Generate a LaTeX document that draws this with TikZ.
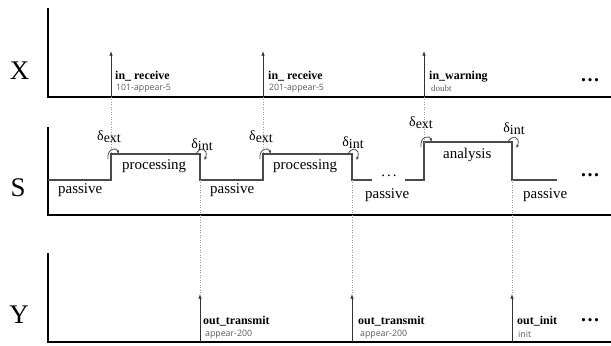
\documentclass[tikz,border=0pt]{standalone}
\usepackage{fontspec}
\setmainfont{Liberation Serif}
\newfontfamily\smallsans{Open Sans}
\usetikzlibrary{arrows.meta}
\definecolor{stepgray}{HTML}{4A4A4A}
\definecolor{labgray}{HTML}{5A5A5A}
\tikzset{
  axis/.style={line width=1.6bp, black},
  steppath/.style={line width=1.3bp, stepgray},
  evarrow/.style={line width=0.8bp, black!80, -{Latex[length=4.5bp,width=3.5bp]}},
  guide/.style={line width=0.5bp, black!40, dotted},
  loop/.style={line width=0.8bp, stepgray, -{Latex[length=3.5bp,width=3bp]}},
  axlabel/.style={font=\fontsize{27}{27}\selectfont, inner sep=0pt},
  evname/.style={font=\fontsize{12}{12}\selectfont\bfseries, anchor=base west, inner sep=0pt},
  evval/.style={font=\smallsans\fontsize{8.8}{9}\selectfont, text=labgray, anchor=west, inner sep=0pt},
  evvalserif/.style={font=\fontsize{9}{9}\selectfont, text=labgray, anchor=west, inner sep=0pt},
  state/.style={font=\fontsize{15}{15}\selectfont, anchor=west, inner sep=0pt},
  trans/.style={font=\fontsize{14}{14}\selectfont, inner sep=0pt},
  more/.style={font=\fontsize{20}{20}\selectfont\bfseries, anchor=west, inner sep=0pt},
}
\newcommand{\dext}{δ\raisebox{-2bp}{ext}}
\newcommand{\dint}{δ\raisebox{-2bp}{int}}
\begin{document}
\begin{tikzpicture}[x=1bp,y=-1bp]
\useasboundingbox (0,0) rectangle (611,345);

% axis labels
\node[axlabel] (lx) at (19.5,71) {X};
\node[axlabel] (ls) at (18,188) {S};
\node[axlabel] (ly) at (19,315) {Y};

% axes
\coordinate (xo) at (48,97);  \coordinate (xt) at (48,8);   \coordinate (xe) at (611,97);
\coordinate (so) at (48,215); \coordinate (st) at (48,127); \coordinate (se) at (611,215);
\coordinate (yo) at (48,342); \coordinate (yt) at (48,253); \coordinate (ye) at (611,342);
\draw[axis] (xt) -- (xo) -- (xe);
\draw[axis] (st) -- (so) -- (se);
\draw[axis] (yt) -- (yo) -- (ye);

% step coordinates
\coordinate (s0) at (48,180);
\coordinate (r1b) at (111,180); \coordinate (r1t) at (111,154);
\coordinate (f1t) at (200,154); \coordinate (f1b) at (200,180);
\coordinate (r2b) at (263,180); \coordinate (r2t) at (263,154);
\coordinate (f2t) at (352,154); \coordinate (f2b) at (352,180);
\coordinate (g1) at (372,180); \coordinate (g2) at (405,180);
\coordinate (r3b) at (424,180); \coordinate (r3t) at (424,142);
\coordinate (f3t) at (512,142); \coordinate (f3b) at (512,180);
\coordinate (s9) at (557,180);
\draw[steppath] (s0) -- (r1b) -- (r1t) -- (f1t) -- (f1b) -- (r2b) -- (r2t) -- (f2t) -- (f2b) -- (g1);
\draw[steppath] (g2) -- (r3b) -- (r3t) -- (f3t) -- (f3b) -- (s9);

% X events
\coordinate (xa1) at (111,97); \coordinate (xh1) at (111,51);
\coordinate (xa2) at (263,97); \coordinate (xh2) at (263,51);
\coordinate (xa3) at (424,97); \coordinate (xh3) at (424,51);
\draw[guide] (xa1) -- (r1t);
\draw[guide] (xa2) -- (r2t);
\draw[guide] (xa3) -- (r3t);
\draw[evarrow] (xa1) -- (xh1);
\draw[evarrow] (xa2) -- (xh2);
\draw[evarrow] (xa3) -- (xh3);
\node[evname] (xn1) at (115,79) {in\_ receive};
\node[evval]  (xv1) at (116,88) {101-appear-5};
\node[evname] (xn2) at (268,79) {in\_ receive};
\node[evval]  (xv2) at (269,88) {201-appear-5};
\node[evname] (xn3) at (429,79) {in\_warning};
\node[evvalserif] (xv3) at (431,88) {doubt};
\node[more] (xm) at (581,80) {.\hspace{1.5bp}.\hspace{1.5bp}.};

% Y events
\coordinate (ya1) at (200,342); \coordinate (yh1) at (200,294);
\coordinate (ya2) at (352,342); \coordinate (yh2) at (352,294);
\coordinate (ya3) at (512,342); \coordinate (yh3) at (512,294);
\draw[guide] (f1b) -- (yh1);
\draw[guide] (f2b) -- (yh2);
\draw[guide] (f3b) -- (yh3);
\draw[evarrow] (ya1) -- (yh1);
\draw[evarrow] (ya2) -- (yh2);
\draw[evarrow] (ya3) -- (yh3);
\node[evname] (yn1) at (203,324) {out\_transmit};
\node[evval]  (yv1) at (205,334) {appear-200};
\node[evname] (yn2) at (358,324) {out\_transmit};
\node[evval]  (yv2) at (360,334) {appear-200};
\node[evname] (yn3) at (517,324) {out\_init};
\node[evval]  (yv3) at (518,334) {init};
\node[more] (ym) at (581,320) {.\hspace{1.5bp}.\hspace{1.5bp}.};

% states
\node[state] (p1) at (58,190) {passive};
\node[state] (c1) at (122,166) {processing};
\node[state] (p2) at (210,190) {passive};
\node[state] (c2) at (273,166) {processing};
\node[font=\fontsize{15}{15}\selectfont, inner sep=0pt] (gd) at (389,176) {.\hspace{2bp}.\hspace{2bp}.};
\node[state] (p3) at (365,195) {passive};
\node[state] (a1) at (443,155) {analysis};
\node[state] (p4) at (523,195) {passive};
\node[more] (sm) at (581,175) {.\hspace{1.5bp}.\hspace{1.5bp}.};

% transition labels
\node[trans] (de1) at (109,137) {\dext};
\node[trans] (di1) at (202,145) {\dint};
\node[trans] (de2) at (261,137) {\dext};
\node[trans] (di2) at (353,143) {\dint};
\node[trans] (de3) at (421,123) {\dext};
\node[trans] (di3) at (514,129) {\dint};

% transition loops
\foreach \c/\t in {111/154,263/154,424/142}{
  \draw[loop] (\c-3,\t+5) .. controls (\c-4.5,\t-6) and (\c+6,\t-7) .. (\c+7.5,\t);
}
\foreach \c/\t in {200/154,352/154,512/142}{
  \draw[loop] (\c-4.5,\t+1) .. controls (\c-1,\t-8) and (\c+9,\t-6) .. (\c+4.5,\t+6.5);
}
\end{tikzpicture}
\end{document}
